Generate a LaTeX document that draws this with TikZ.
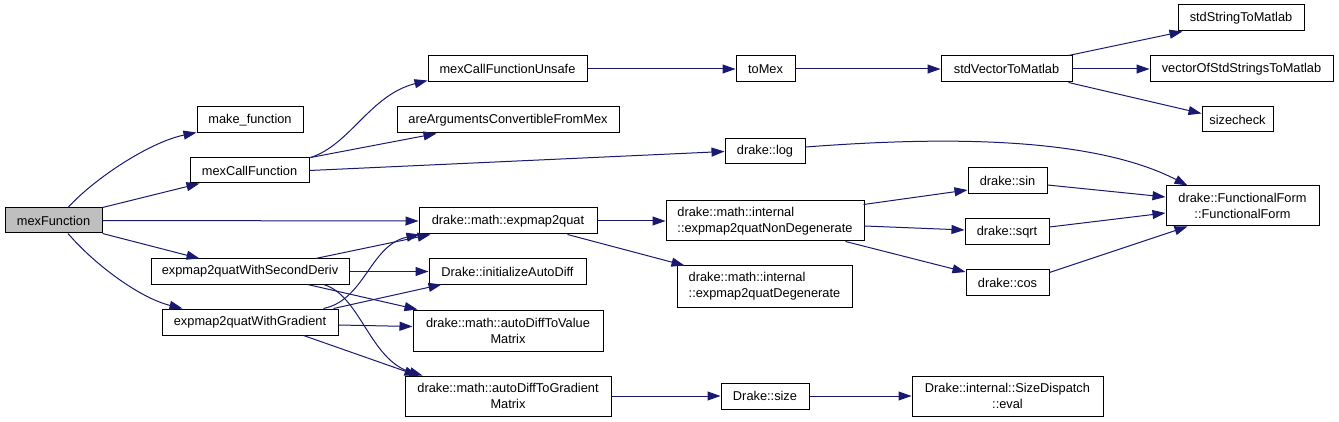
\documentclass[tikz,border=0pt]{standalone}
\usepackage{fontspec}
\setmainfont{Liberation Sans}
\usetikzlibrary{arrows.meta,calc}
\definecolor{edgec}{HTML}{191970}
\definecolor{rootfill}{HTML}{BFBFBF}
\begin{document}
\begin{tikzpicture}[x=1pt,y=-1pt,
  box/.style={draw=black,fill=white,line width=1pt,inner sep=0pt,font=\fontsize{12.8}{16}\selectfont},
  e/.style={draw=edgec,line width=1pt,-{Triangle[length=13pt,width=9pt]}}]
\useasboundingbox (0,0) rectangle (1339,422);
% nodes
\node[box,fill=rootfill,minimum width=97pt,minimum height=25pt] (mexF) at (53.5,220.5) {mexFunction};
\node[box,minimum width=106pt,minimum height=26pt] (make) at (250,120) {make\_function};
\node[box,minimum width=119pt,minimum height=25pt] (mexCall) at (249.5,170.5) {mexCallFunction};
\node[box,minimum width=198pt,minimum height=25pt] (WS) at (250,271.5) {expmap2quatWithSecondDeriv};
\node[box,minimum width=176pt,minimum height=26pt] (WG) at (250,322) {expmap2quatWithGradient};
\node[box,minimum width=159pt,minimum height=26pt] (unsafe) at (507.5,69) {mexCallFunctionUnsafe};
\node[box,minimum width=222pt,minimum height=26pt] (areArgs) at (508,120) {areArgumentsConvertibleFromMex};
\node[box,minimum width=59pt,minimum height=26pt] (toMex) at (765.5,69) {toMex};
\node[box,minimum width=80pt,minimum height=25pt] (log) at (765,151.5) {drake::log};
\node[box,minimum width=178pt,minimum height=26pt] (exp) at (508,221) {drake::math::expmap2quat};
\node[box,minimum width=157pt,minimum height=25pt] (initAD) at (507.5,271.5) {Drake::initializeAutoDiff};
\node[box,minimum width=190pt,minimum height=41pt,align=center] (VM) at (508,330.5) {drake::math::autoDiffToValue\\Matrix};
\node[box,minimum width=206pt,minimum height=40pt,align=center] (GM) at (508,396) {drake::math::autoDiffToGradient\\Matrix};
\node[box,minimum width=198pt,minimum height=40pt,align=left] (nondeg) at (765,221) {drake::math::internal\\::expmap2quatNonDegenerate};
\node[box,minimum width=175pt,minimum height=41pt,align=left] (deg) at (764.5,286.5) {drake::math::internal\\::expmap2quatDegenerate};
\node[box,minimum width=79pt,minimum height=26pt] (sin) at (1007.5,181) {drake::sin};
\node[box,minimum width=84pt,minimum height=26pt] (sqrt) at (1007,232) {drake::sqrt};
\node[box,minimum width=83pt,minimum height=25pt] (cos) at (1007.5,282.5) {drake::cos};
\node[box,minimum width=153pt,minimum height=40pt,align=center] (FF) at (1242.5,206) {drake::FunctionalForm\\::FunctionalForm};
\node[box,minimum width=131pt,minimum height=26pt] (stdVec) at (1006.5,69) {stdVectorToMatlab};
\node[box,minimum width=126pt,minimum height=26pt] (stdStr) at (1241,18) {stdStringToMatlab};
\node[box,minimum width=183pt,minimum height=26pt] (vecStr) at (1241.5,69) {vectorOfStdStringsToMatlab};
\node[box,minimum width=71pt,minimum height=25pt] (sizecheck) at (1237.5,119.5) {sizecheck};
\node[box,minimum width=88pt,minimum height=26pt] (size) at (765,396) {Drake::size};
\node[box,minimum width=191pt,minimum height=40pt,align=center] (eval) at (1007.5,396) {Drake::internal::SizeDispatch\\::eval};
% edges from mexFunction
\draw[e] ($(mexF.north)+(14.5,0)$) .. controls (95,178) and (150,142) .. ($(make.south west)+(0,-1)$);
\draw[e] (mexF.north east) -- ($(mexCall.south west)+(10,0)$);
\draw[e] (mexF.east) -- (exp.west);
\draw[e] (mexF.south east) -- ($(WS.north west)+(49,0)$);
\draw[e] ($(mexF.south)+(14.5,0)$) .. controls (95,265) and (140,298) .. ($(WG.north west)+(21,0)$);
% mexCallFunction
\draw[e] ($(mexCall.north east)+(1,0)$) .. controls (350,145) and (370,95) .. ($(unsafe.south west)+(0,-2)$);
\draw[e] ($(mexCall.north east)+(1,0)$) -- ($(areArgs.south west)+(40,0)$);
\draw[e] (mexCall.east) -- (log.west);
\draw[e] (unsafe.east) -- (toMex.west);
\draw[e] (toMex.east) -- (stdVec.west);
\draw[e] ($(stdVec.north east)+(-4,0)$) -- ($(stdStr.south west)+(5,0)$);
\draw[e] (stdVec.east) -- (vecStr.west);
\draw[e] ($(stdVec.south east)+(-4,0)$) -- ($(sizecheck.west)+(0,-6)$);
\draw[e] ($(log.east)+(0,-4.5)$) .. controls (900,140) and (1080,130) .. ($(FF.north west)+(22,0)$);
% expmap2quat
\draw[e] (exp.east) -- (nondeg.west);
\draw[e] ($(exp.south east)+(-30,0)$) -- ($(deg.north west)+(8,0)$);
\draw[e] ($(nondeg.north east)+(-1,4)$) -- ($(sin.west)+(0,9)$);
\draw[e] ($(nondeg.east)+(0,5)$) -- ($(sqrt.west)+(0,-2)$);
\draw[e] ($(nondeg.south east)+(-19,0)$) -- ($(cos.west)+(0,-10.5)$);
\draw[e] ($(sin.east)+(0,4)$) -- ($(FF.west)+(0,-9)$);
\draw[e] ($(sqrt.east)+(0,-5)$) -- ($(FF.west)+(0,7)$);
\draw[e] ($(cos.east)+(0,-10)$) -- ($(FF.south west)+(22,0)$);
% WithSecondDeriv
\draw[e] ($(WS.north east)+(-34,0)$) -- ($(exp.south west)+(12,0)$);
\draw[e] (WS.east) -- (initAD.west);
\draw[e] ($(WS.south east)+(-42,0)$) -- ($(VM.north west)+(5,0)$);
\draw[e] ($(WS.south east)+(-26,0)$) .. controls (360,295) and (370,360) .. ($(GM.north west)+(18,0)$);
% WithGradient
\draw[e] ($(WG.north east)+(-15,0)$) .. controls (365,300) and (370,245) .. ($(exp.south west)+(1,0)$);
\draw[e] ($(WG.north east)+(-5,0)$) -- ($(initAD.south west)+(13,0)$);
\draw[e] ($(WG.east)+(0,3)$) -- ($(VM.west)+(0,-4)$);
\draw[e] ($(WG.south east)+(-35,0)$) -- ($(GM.north west)+(13,0)$);
% GradientMatrix
\draw[e] (GM.east) -- (size.west);
\draw[e] (size.east) -- (eval.west);
\end{tikzpicture}
\end{document}
